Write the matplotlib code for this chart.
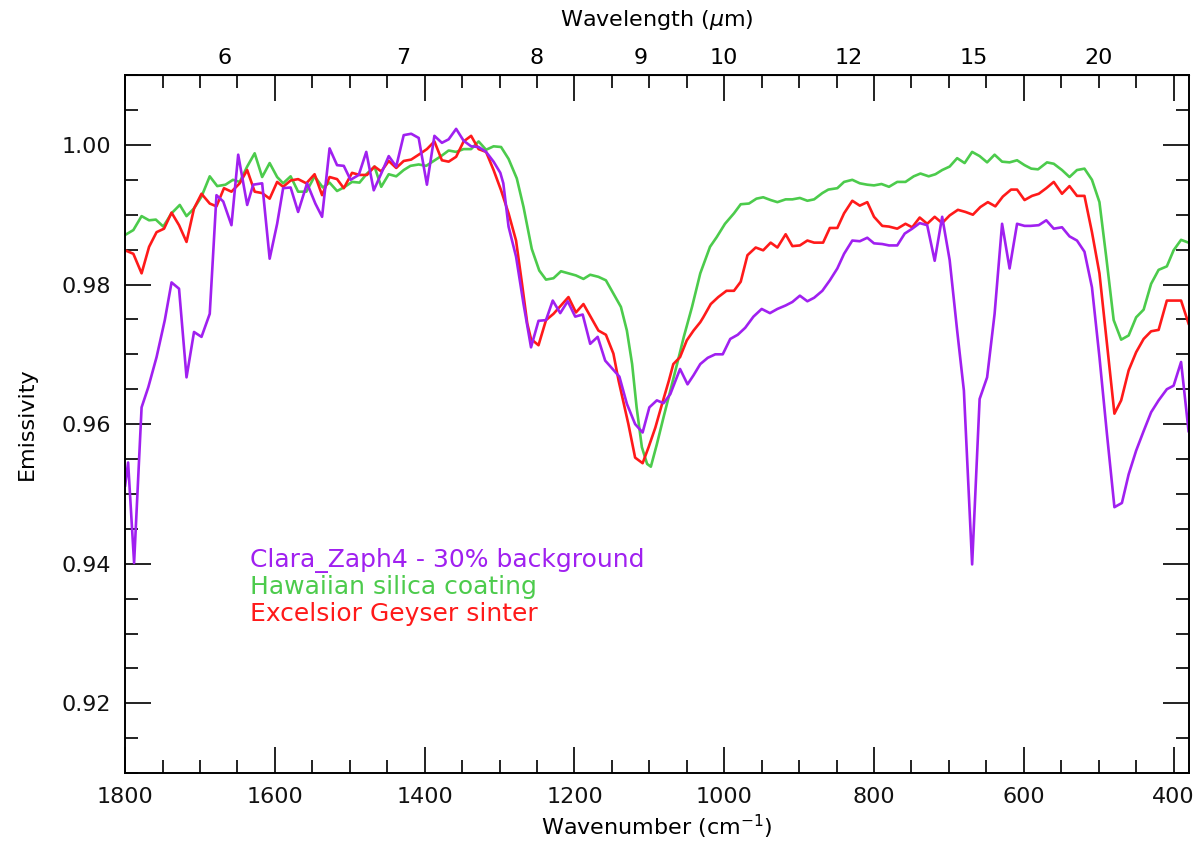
import numpy as np
import matplotlib.pyplot as plt
from matplotlib.ticker import MultipleLocator

# Clara_Zaph4 - 30% background (purple)
clara_wn = [1800, 1796, 1788, 1778, 1769, 1758, 1747, 1738, 1728, 1718, 1708, 1698, 1687,
            1678, 1669, 1658, 1649, 1637, 1629, 1617, 1607, 1597, 1589, 1579, 1569, 1557,
            1546, 1537, 1527, 1517, 1508, 1499, 1488, 1478, 1468, 1458, 1448, 1438, 1428,
            1418, 1408, 1397, 1387, 1377, 1368, 1358, 1348, 1338, 1328, 1318, 1308, 1299,
            1295, 1288, 1278, 1268, 1258, 1248, 1238, 1229, 1219, 1209, 1199, 1189, 1179,
            1169, 1159, 1149, 1140, 1130, 1119, 1109, 1100, 1090, 1081, 1072, 1059, 1049,
            1041, 1032, 1022, 1012, 1002, 992, 982, 972, 961, 950, 939, 929, 918, 909, 899,
            889, 880, 869, 859, 849, 840, 829, 819, 809, 800, 789, 780, 769, 759, 749, 739,
            729, 719, 709, 699, 689, 680, 669, 659, 649, 639, 629, 619, 609, 599, 591, 580,
            570, 560, 549, 539, 529, 519, 509, 499, 489, 479, 469, 460, 450, 440, 430, 420,
            409, 400, 390, 380]
clara_em = [0.9512, 0.9545, 0.9401, 0.9624, 0.9653, 0.9696, 0.9749, 0.9803, 0.9794, 0.9667,
            0.9732, 0.9725, 0.9758, 0.9928, 0.9919, 0.9885, 0.9986, 0.9914, 0.9943, 0.9945,
            0.9837, 0.9887, 0.9938, 0.9939, 0.9904, 0.9945, 0.9916, 0.9897, 0.9995, 0.9971,
            0.9970, 0.9950, 0.9957, 0.9990, 0.9935, 0.9959, 0.9984, 0.9969, 1.0014, 1.0016,
            1.0010, 0.9943, 1.0013, 1.0003, 1.0008, 1.0023, 1.0006, 0.9998, 0.9997, 0.9990,
            0.9976, 0.9960, 0.9945, 0.9883, 0.9840, 0.9772, 0.9710, 0.9748, 0.9749, 0.9777,
            0.9759, 0.9776, 0.9754, 0.9757, 0.9715, 0.9725, 0.9691, 0.9679, 0.9668, 0.9629,
            0.9600, 0.9588, 0.9624, 0.9634, 0.9630, 0.9643, 0.9679, 0.9657, 0.9670, 0.9686,
            0.9695, 0.9700, 0.9700, 0.9722, 0.9728, 0.9738, 0.9754, 0.9765, 0.9759, 0.9765,
            0.9770, 0.9775, 0.9784, 0.9776, 0.9781, 0.9791, 0.9806, 0.9823, 0.9844, 0.9863,
            0.9862, 0.9867, 0.9859, 0.9858, 0.9856, 0.9856, 0.9873, 0.9880, 0.9888, 0.9885,
            0.9834, 0.9897, 0.9835, 0.9734, 0.9648, 0.9399, 0.9636, 0.9667, 0.9758, 0.9887,
            0.9823, 0.9887, 0.9884, 0.9884, 0.9885, 0.9892, 0.9880, 0.9882, 0.9869, 0.9863,
            0.9847, 0.9796, 0.9696, 0.9586, 0.9481, 0.9487, 0.9528, 0.9562, 0.9590, 0.9617,
            0.9634, 0.9650, 0.9655, 0.9689, 0.9590]

# Hawaiian silica coating (green)
hawaii_wn = [1800, 1789, 1778, 1768, 1759, 1749, 1738, 1727, 1718, 1708, 1698, 1687, 1677,
             1666, 1656, 1647, 1637, 1627, 1617, 1607, 1597, 1589, 1579, 1569, 1558, 1547,
             1536, 1527, 1517, 1508, 1497, 1487, 1477, 1467, 1458, 1448, 1438, 1428, 1419,
             1408, 1398, 1388, 1378, 1368, 1358, 1348, 1338, 1328, 1318, 1308, 1298, 1288,
             1277, 1268, 1257, 1247, 1238, 1228, 1218, 1208, 1198, 1188, 1179, 1168, 1158,
             1148, 1138, 1130, 1123, 1117, 1110, 1103, 1098, 1090, 1081, 1072, 1063, 1054,
             1043, 1032, 1019, 1010, 999, 987, 978, 967, 957, 948, 938, 929, 918, 909, 899,
             889, 880, 869, 861, 849, 840, 829, 819, 809, 800, 790, 780, 769, 758, 747, 738,
             727, 718, 709, 699, 689, 679, 669, 659, 649, 639, 629, 619, 609, 599, 590, 581,
             569, 560, 549, 539, 529, 519, 509, 499, 490, 480, 470, 460, 450, 440, 430, 420,
             409, 400, 390, 380]
hawaii_em = [0.9871, 0.9878, 0.9898, 0.9892, 0.9893, 0.9883, 0.9902, 0.9914, 0.9898, 0.9909,
             0.9926, 0.9955, 0.9941, 0.9943, 0.9950, 0.9947, 0.9969, 0.9988, 0.9954, 0.9974,
             0.9954, 0.9945, 0.9955, 0.9933, 0.9933, 0.9955, 0.9939, 0.9946, 0.9934, 0.9939,
             0.9947, 0.9946, 0.9959, 0.9969, 0.9940, 0.9958, 0.9955, 0.9964, 0.9970, 0.9972,
             0.9970, 0.9977, 0.9984, 0.9992, 0.9990, 0.9994, 0.9994, 1.0005, 0.9993, 0.9998,
             0.9997, 0.9980, 0.9952, 0.9911, 0.9851, 0.9820, 0.9807, 0.9809, 0.9819, 0.9816,
             0.9813, 0.9808, 0.9814, 0.9811, 0.9806, 0.9787, 0.9768, 0.9734, 0.9686, 0.9624,
             0.9567, 0.9543, 0.9539, 0.9571, 0.9610, 0.9648, 0.9686, 0.9725, 0.9768, 0.9816,
             0.9854, 0.9868, 0.9887, 0.9902, 0.9915, 0.9916, 0.9923, 0.9925, 0.9921, 0.9918,
             0.9922, 0.9922, 0.9924, 0.9920, 0.9922, 0.9931, 0.9936, 0.9938, 0.9947, 0.9950,
             0.9945, 0.9943, 0.9942, 0.9944, 0.9940, 0.9947, 0.9947, 0.9955, 0.9959, 0.9955,
             0.9958, 0.9964, 0.9969, 0.9981, 0.9974, 0.9990, 0.9984, 0.9975, 0.9986, 0.9976,
             0.9975, 0.9978, 0.9971, 0.9966, 0.9965, 0.9975, 0.9973, 0.9964, 0.9954, 0.9964,
             0.9966, 0.9950, 0.9918, 0.9840, 0.9749, 0.9721, 0.9727, 0.9753, 0.9764, 0.9801,
             0.9821, 0.9826, 0.9849, 0.9864, 0.9860]

# Excelsior Geyser sinter (red)
geyser_wn = [1800, 1789, 1778, 1768, 1758, 1748, 1738, 1728, 1718, 1708, 1698, 1687, 1678,
             1668, 1658, 1647, 1637, 1627, 1617, 1607, 1597, 1589, 1579, 1569, 1558, 1547,
             1537, 1527, 1517, 1508, 1497, 1487, 1477, 1467, 1458, 1448, 1438, 1428, 1418,
             1408, 1397, 1387, 1377, 1368, 1358, 1348, 1338, 1328, 1318, 1308, 1298, 1288,
             1278, 1270, 1263, 1258, 1248, 1238, 1228, 1218, 1208, 1198, 1188, 1178, 1168,
             1158, 1148, 1141, 1134, 1128, 1119, 1109, 1101, 1092, 1083, 1074, 1068, 1059,
             1050, 1041, 1032, 1028, 1018, 1008, 997, 987, 978, 969, 958, 948, 938, 929, 918,
             909, 899, 889, 880, 868, 859, 849, 840, 829, 819, 809, 800, 789, 780, 769, 758,
             749, 739, 729, 719, 709, 699, 688, 678, 668, 658, 648, 638, 628, 617, 609, 599,
             589, 580, 570, 560, 549, 539, 529, 519, 509, 499, 489, 479, 470, 460, 450, 440,
             430, 420, 409, 400, 390, 380]
geyser_em = [0.9849, 0.9844, 0.9816, 0.9854, 0.9875, 0.9880, 0.9903, 0.9885, 0.9861, 0.9909,
             0.9930, 0.9916, 0.9912, 0.9938, 0.9933, 0.9945, 0.9964, 0.9933, 0.9931, 0.9923,
             0.9947, 0.9940, 0.9949, 0.9951, 0.9945, 0.9958, 0.9928, 0.9954, 0.9951, 0.9938,
             0.9960, 0.9957, 0.9957, 0.9969, 0.9962, 0.9977, 0.9967, 0.9977, 0.9979, 0.9986,
             0.9994, 1.0005, 0.9978, 0.9976, 0.9983, 1.0005, 1.0013, 0.9994, 0.9990, 0.9964,
             0.9935, 0.9902, 0.9863, 0.9801, 0.9744, 0.9722, 0.9713, 0.9749, 0.9758, 0.9770,
             0.9782, 0.9760, 0.9772, 0.9753, 0.9734, 0.9728, 0.9701, 0.9662, 0.9629, 0.9600,
             0.9552, 0.9544, 0.9567, 0.9595, 0.9629, 0.9662, 0.9686, 0.9696, 0.9720, 0.9734,
             0.9746, 0.9753, 0.9772, 0.9782, 0.9791, 0.9791, 0.9804, 0.9842, 0.9853, 0.9849,
             0.9860, 0.9853, 0.9872, 0.9855, 0.9856, 0.9863, 0.9860, 0.9860, 0.9881, 0.9881,
             0.9902, 0.9920, 0.9913, 0.9918, 0.9897, 0.9884, 0.9883, 0.9880, 0.9887, 0.9882,
             0.9896, 0.9887, 0.9897, 0.9888, 0.9899, 0.9907, 0.9904, 0.9900, 0.9911, 0.9918,
             0.9912, 0.9926, 0.9936, 0.9936, 0.9921, 0.9927, 0.9930, 0.9938, 0.9947, 0.9930,
             0.9941, 0.9927, 0.9927, 0.9875, 0.9816, 0.9715, 0.9615, 0.9634, 0.9677, 0.9703,
             0.9722, 0.9733, 0.9735, 0.9777, 0.9777, 0.9777, 0.9744]

series_labels = ['Clara_Zaph4 - 30% background', 'Hawaiian silica coating',
                 'Excelsior Geyser sinter']
colors = ['#A020F0', '#4CCB4C', '#FF1A1A']
wavelength_ticks = [6, 7, 8, 9, 10, 12, 15, 20]

plt.rcParams['font.family'] = 'DejaVu Sans'
fig = plt.figure(figsize=(12.03, 8.44), dpi=100)
ax = fig.add_axes([0.104, 0.084, 0.884, 0.827])

ax.plot(hawaii_wn, hawaii_em, color=colors[1], lw=1.9)
ax.plot(geyser_wn, geyser_em, color=colors[2], lw=1.9)
ax.plot(clara_wn, clara_em, color=colors[0], lw=1.9)

ax.set_xlim(1800, 380)
ax.set_ylim(0.91, 1.01)
ax.xaxis.set_major_locator(MultipleLocator(200))
ax.xaxis.set_minor_locator(MultipleLocator(50))
ax.yaxis.set_major_locator(MultipleLocator(0.02))
ax.yaxis.set_minor_locator(MultipleLocator(0.005))
ax.yaxis.set_major_formatter(plt.FuncFormatter(lambda v, p: f'{v:.2f}'))
ax.tick_params(which='both', direction='in', top=True, right=True, width=1.3, colors='#111')
ax.tick_params(which='major', length=19, labelsize=16, pad=10)
ax.tick_params(which='minor', length=9.5)
for s in ax.spines.values():
    s.set_linewidth(1.4)

ax.set_xlabel('Wavenumber (cm$^{-1}$)', fontsize=16, labelpad=4)
ax.set_ylabel('Emissivity', fontsize=16, labelpad=18)

top = ax.secondary_xaxis('top', functions=(lambda x: 1e4 / x, lambda x: 1e4 / x))
top.set_xticks(wavelength_ticks)
top.set_xticklabels([str(w) for w in wavelength_ticks])
top.tick_params(length=0, labelsize=16, pad=5)
top.minorticks_off()
top.set_xlabel('Wavelength ($\\mu$m)', fontsize=16, labelpad=16)

for i, (lab, c) in enumerate(zip(series_labels, colors)):
    ax.text(0.117, 0.305 - i * 0.0385, lab, color=c, fontsize=18,
            transform=ax.transAxes, va='center', ha='left')

fig.savefig('out.png', dpi=100)
